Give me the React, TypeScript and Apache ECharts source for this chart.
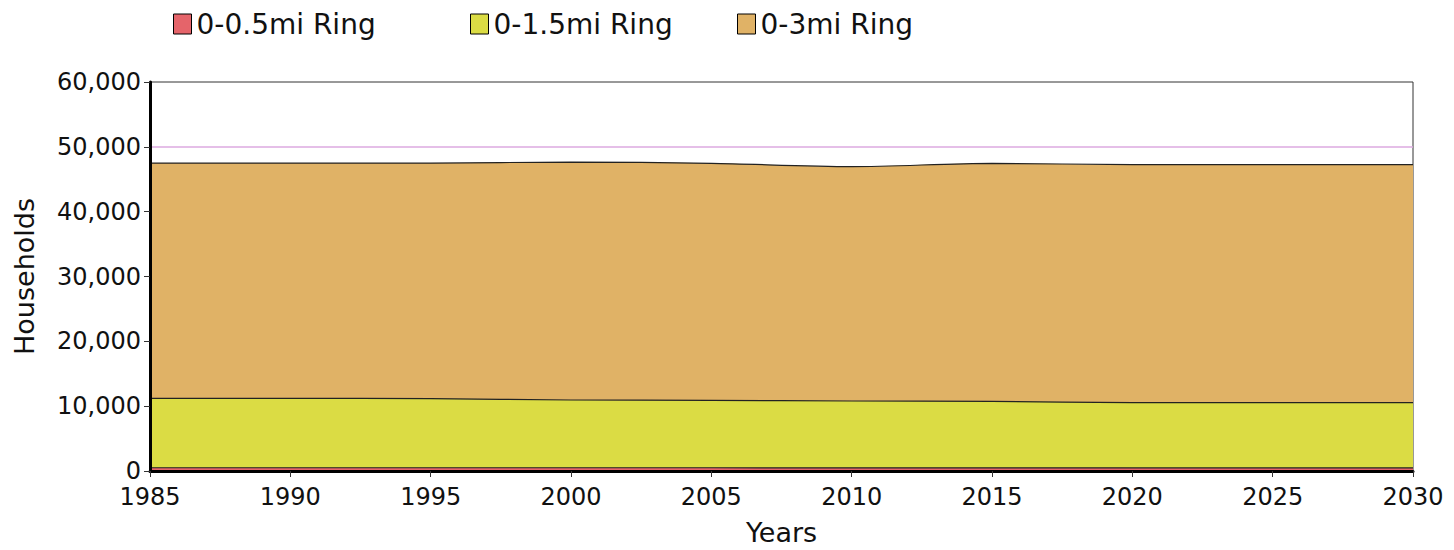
import React, { useEffect, useRef } from "react";
import * as echarts from "echarts";

const years = [1985, 1990, 1995, 2000, 2005, 2010, 2015, 2020, 2025, 2030];
const ring05 = [500, 500, 500, 500, 500, 490, 490, 480, 480, 480];
const ring15 = [11200, 11200, 11150, 10950, 10900, 10800, 10750, 10550, 10550, 10550];
const ring3 = [47500, 47500, 47500, 47650, 47450, 46950, 47450, 47250, 47250, 47250];
const seriesNames = ["0-0.5mi Ring", "0-1.5mi Ring", "0-3mi Ring"];
const seriesColors = ["#e5646a", "#dbdc44", "#e0b266"];
const legendLefts = [173, 470, 737];
const referenceLine = 50000;

const FONT = "DejaVu Sans, Liberation Sans, Arial, sans-serif";

export default function App() {
  const ref = useRef<HTMLDivElement>(null);
  useEffect(() => {
    if (!ref.current) return;
    const chart = echarts.init(ref.current, null, { renderer: "svg" });
    const mk = (i: number, vals: number[], extra: any = {}) => ({
      name: seriesNames[i],
      type: "line",
      data: years.map((y, k) => [y, vals[k]]),
      smooth: 0.3,
      symbol: "none",
      z: 2,
      itemStyle: { color: seriesColors[i], borderColor: "#000", borderWidth: 1 },
      lineStyle: { color: "#222", width: 1.2 },
      areaStyle: { color: seriesColors[i], opacity: 1 },
      ...extra,
    });
    chart.setOption({
      animation: false,
      backgroundColor: "#fff",
      textStyle: { fontFamily: FONT },
      legend: seriesNames.map((n, i) => ({
        data: [n],
        left: legendLefts[i],
        top: 10,
        padding: 0,
        itemWidth: 18,
        itemHeight: 20,
        icon: "rect",
        itemStyle: { borderColor: "#000", borderWidth: 1 },
        textStyle: { fontSize: 28, color: "#111", fontFamily: FONT },
      })),
      grid: {
        left: 150,
        right: 41,
        top: 82,
        bottom: 79,
        outerBoundsMode: "none",
        containLabel: false,
        show: true,
        borderColor: "#333",
        borderWidth: 1,
      },
      xAxis: {
        type: "value",
        min: 1985,
        max: 2030,
        interval: 5,
        z: 10,
        name: "Years",
        nameLocation: "middle",
        nameGap: 48,
        nameTextStyle: { fontSize: 27, color: "#111" },
        axisLine: { show: true, lineStyle: { color: "#000", width: 3 } },
        axisTick: { show: true, length: 6, lineStyle: { color: "#333", width: 1 } },
        axisLabel: { fontSize: 24, color: "#111", margin: 14, formatter: (v: number) => String(v) },
        splitLine: { show: false },
      },
      yAxis: {
        type: "value",
        min: 0,
        max: 60000,
        interval: 10000,
        z: 10,
        name: "Households",
        nameLocation: "middle",
        nameGap: 112,
        nameTextStyle: { fontSize: 27, color: "#111" },
        axisLine: { show: true, lineStyle: { color: "#000", width: 3 } },
        axisTick: { show: true, length: 6, lineStyle: { color: "#333", width: 1 } },
        axisLabel: {
          fontSize: 24,
          color: "#111",
          margin: 9,
          formatter: (v: number) => v.toLocaleString("en-US"),
        },
        splitLine: { show: false },
      },
      series: [
        mk(2, ring3, {
          markLine: {
            silent: true,
            symbol: "none",
            label: { show: false },
            lineStyle: { color: "#dcaae0", width: 1.5, type: "solid" },
            data: [{ yAxis: referenceLine }],
          },
        }),
        mk(1, ring15),
        mk(0, ring05),
      ],
    });
    return () => chart.dispose();
  }, []);
  return (
    <div
      ref={ref}
      style={{ position: "fixed", left: 0, top: 0, width: 1454, height: 550, background: "#fff" }}
    />
  );
}
